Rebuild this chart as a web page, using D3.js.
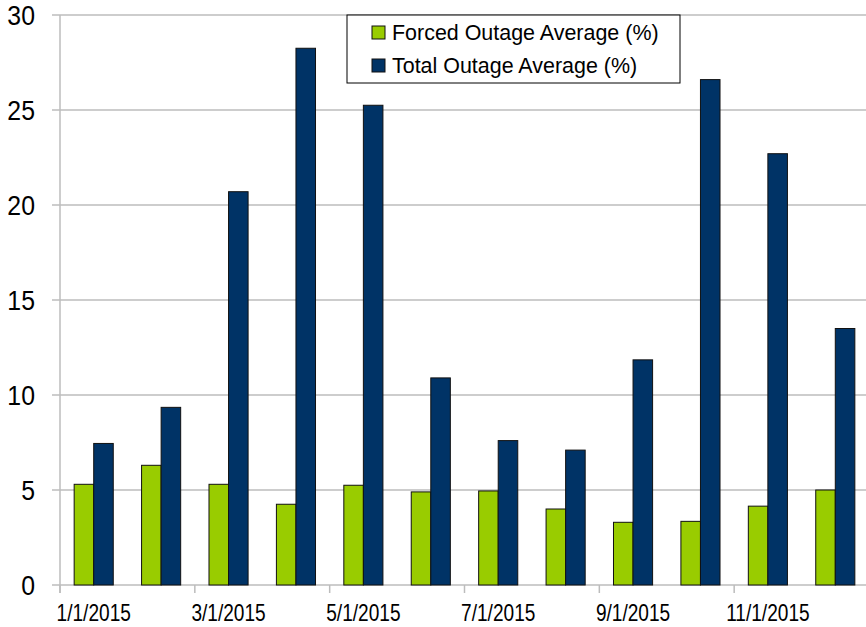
<!DOCTYPE html>
<html>
<head>
<meta charset="utf-8">
<script src="https://cdn.jsdelivr.net/npm/d3@7"></script>
<style>
  body { margin: 0; background: #fff; }
  svg text { font-family: "Liberation Sans Narrow", "Arial Narrow", "Liberation Sans", Arial, sans-serif; fill: #000; }
</style>
</head>
<body>
<div id="chart"></div>
<script>
// monthly values
const months = ["1/1/2015", "2/1/2015", "3/1/2015", "4/1/2015", "5/1/2015", "6/1/2015",
                "7/1/2015", "8/1/2015", "9/1/2015", "10/1/2015", "11/1/2015", "12/1/2015"];
const forcedOutage = [5.3, 6.3, 5.3, 4.25, 5.25, 4.9, 4.95, 4.0, 3.3, 3.35, 4.15, 5.0];
const totalOutage = [7.45, 9.35, 20.7, 28.25, 25.25, 10.9, 7.6, 7.1, 11.85, 26.6, 22.7, 13.5];
const seriesNames = ["Forced Outage Average (%)", "Total Outage Average (%)"];
const seriesColors = ["#99cc00", "#003366"];
const yTicks = [0, 5, 10, 15, 20, 25, 30];

const width = 866, height = 627;
const margin = { top: 15, right: -3, bottom: 42, left: 60 };

// no narrow font installed, so text is squeezed horizontally
const place = (x, y, sx) => "translate(" + x + "," + y + ") scale(" + sx + ",1)";

const svg = d3.select("#chart").append("svg")
    .attr("width", width)
    .attr("height", height);

// category scale and the two bars inside each month
const x0 = d3.scaleBand()
    .domain(months)
    .range([margin.left, width - margin.right])
    .paddingInner(0.42)
    .paddingOuter(0.21);

const x1 = d3.scaleBand()
    .domain(seriesNames)
    .range([0, x0.bandwidth()]);

const y = d3.scaleLinear()
    .domain([0, 30])
    .range([height - margin.bottom, margin.top]);

// gridlines
svg.append("g")
    .selectAll("line")
    .data(yTicks)
    .enter().append("line")
    .attr("x1", margin.left - 8)
    .attr("x2", width)
    .attr("y1", d => y(d))
    .attr("y2", d => y(d))
    .style("stroke", "#bcbcbc")
    .style("stroke-width", 1.5);

// y axis line
svg.append("line")
    .attr("x1", margin.left).attr("x2", margin.left)
    .attr("y1", y(30)).attr("y2", y(0) + 8)
    .style("stroke", "#bcbcbc")
    .style("stroke-width", 1.5);

// y labels
svg.append("g")
    .selectAll("text")
    .data(yTicks)
    .enter().append("text")
    .attr("transform", d => place(35, y(d), 0.92))
    .attr("dy", "0.36em")
    .attr("text-anchor", "end")
    .style("font-size", "27px")
    .text(d => d);

// month groups
const groups = svg.append("g")
    .selectAll("g")
    .data(months)
    .enter().append("g")
    .attr("transform", d => "translate(" + x0(d) + ",0)");

groups.selectAll("rect")
    .data((d, i) => [forcedOutage[i], totalOutage[i]].map((v, k) => ({ key: seriesNames[k], value: v, color: seriesColors[k] })))
    .enter().append("rect")
    .attr("x", d => x1(d.key))
    .attr("y", d => y(d.value))
    .attr("width", x1.bandwidth())
    .attr("height", d => y(0) - y(d.value))
    .style("fill", d => d.color)
    .style("stroke", "#111")
    .style("stroke-width", 1);

// tick marks at every other month boundary
const step = x0.step();
const tickIdx = d3.range(0, months.length + 1, 2);
svg.append("g")
    .selectAll("line")
    .data(tickIdx)
    .enter().append("line")
    .attr("x1", i => margin.left + i * step)
    .attr("x2", i => margin.left + i * step)
    .attr("y1", y(0))
    .attr("y2", y(0) + 8)
    .style("stroke", "#bcbcbc")
    .style("stroke-width", 1.5);

// x labels, every other month
svg.append("g")
    .selectAll("text")
    .data(months.filter((d, i) => i % 2 === 0))
    .enter().append("text")
    .attr("transform", d => place(x0(d) + x0.bandwidth() / 2, 621, 0.83))
    .attr("text-anchor", "middle")
    .style("font-size", "23px")
    .text(d => d);

// legend
const legend = svg.append("g").attr("transform", "translate(347,15)");
legend.append("rect")
    .attr("width", 333)
    .attr("height", 68)
    .style("fill", "#fff")
    .style("stroke", "#000")
    .style("stroke-width", 1);

const item = legend.selectAll(".item")
    .data(seriesNames)
    .enter().append("g")
    .attr("transform", (d, i) => "translate(25," + (11 + i * 33) + ")");

item.append("rect")
    .attr("width", 13)
    .attr("height", 13)
    .style("fill", (d, i) => seriesColors[i])
    .style("stroke", "#111")
    .style("stroke-width", 1);

item.append("text")
    .attr("transform", place(20, 14, 0.975))
    .style("font-size", "22px")
    .text(d => d);
</script>
</body>
</html>
